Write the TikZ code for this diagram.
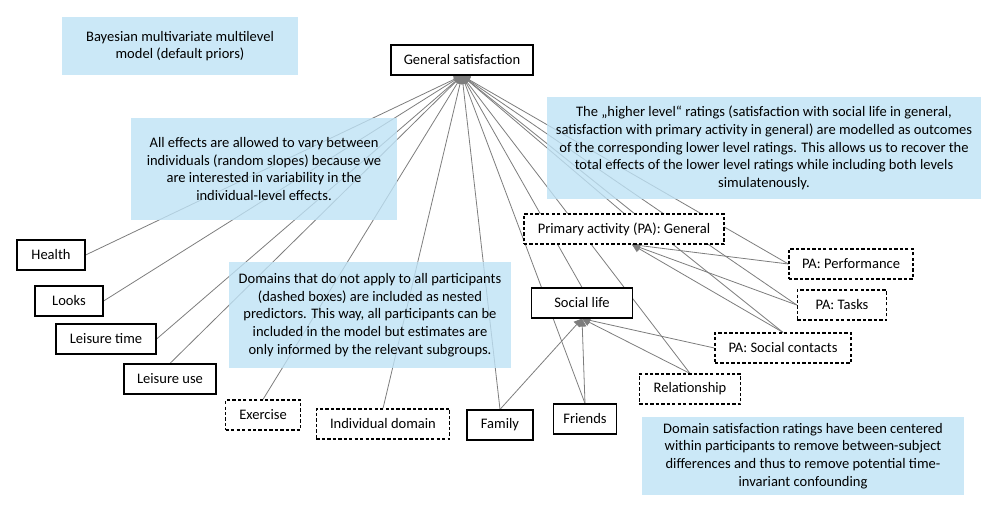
\documentclass[tikz,border=0pt]{standalone}
\usepackage{fontspec}
\setmainfont{Carlito}
\usetikzlibrary{arrows.meta,backgrounds}
\definecolor{notefill}{RGB}{190,226,245}
\definecolor{linkgray}{RGB}{125,125,125}

\begin{document}
\begin{tikzpicture}[
    x=0.75pt, y=-0.75pt,
    font=\fontsize{10.9}{13.3}\selectfont,
    every node/.style = {align=center, inner sep=0pt},
    domain/.style = {draw, fill=white, line width=0.9pt,
      minimum height=22.5pt, minimum width=#1},
    nested/.style = {domain=#1, dash pattern=on 2.5pt off 1.6pt},
    note/.style = {fill=notefill, fill opacity=0.8, text opacity=1},
    link/.style = {draw=linkgray, line width=0.6pt,
      -{Triangle[length=6pt,width=6pt]}}
  ]
  \useasboundingbox (0,0) rectangle (1000,511);

  \node[domain=106.5pt] (gs) at (462,60) {General satisfaction};

  \node[domain=51pt] (health) at (51,255) {Health};
  \node[domain=51pt] (looks) at (69,301) {Looks};
  \node[domain=75pt] (ltime) at (106,339) {Leisure time};
  \node[domain=69pt] (luse) at (170,379) {Leisure use};
  \node[nested=56pt] (exercise) at (263,415) {Exercise};
  \node[nested=100pt] (indiv) at (383,424) {Individual domain};
  \node[domain=49.5pt] (family) at (500,425) {Family};
  \node[domain=47pt] (friends) at (585,419) {Friends};
  \node[domain=76pt] (social) at (582,303) {Social life};
  \node[nested=76pt] (relation) at (690,389) {Relationship};
  \node[nested=150pt] (pagen) at (624,229) {Primary activity (PA): General};
  \node[nested=93pt] (paperf) at (851,264) {PA: Performance};
  \node[nested=67pt] (patasks) at (842,305) {PA: Tasks};
  \node[nested=102pt] (pasocial) at (783,348) {PA: Social contacts};

  \node[note, minimum width=177pt, minimum height=43pt] (model) at (180,46)
    {Bayesian multivariate multilevel\\model (default priors)};
  \node[note, minimum width=200pt, minimum height=76.5pt] (noteslopes) at (264,169)
    {All effects are allowed to vary between\\individuals (random slopes) because we\\are interested in variability in the\\individual-level effects.};
  \node[note, minimum width=212pt, minimum height=80pt] (notenested) at (370,315)
    {Domains that do not apply to all participants\\(dashed boxes) are included as nested\\predictors. This way, all participants can be\\included in the model but estimates are\\only informed by the relevant subgroups.};
  \node[note, minimum width=326pt, minimum height=77pt] (notelevels) at (764,148)
    {The „higher level“ ratings (satisfaction with social life in general,\\satisfaction with primary activity in general) are modelled as outcomes\\of the corresponding lower level ratings. This allows us to recover the\\total effects of the lower level ratings while including both levels\\simulatenously.};
  \node[note, minimum width=242pt, minimum height=59pt] (notecenter) at (803,456)
    {Domain satisfaction ratings have been centered\\within participants to remove between-subject\\differences and thus to remove potential time-\\invariant confounding};

  \begin{pgfonlayer}{background}
    \foreach \src in {health.east, looks.east, ltime.east, luse.north,
        exercise.north, indiv.north, family.north, friends.north,
        social.north, relation.north, pagen.north, paperf.west,
        patasks.west, pasocial.north}
      \draw[link] (\src) -- (gs.south);
    \foreach \src in {family.north, friends.north, relation.north, pasocial.west}
      \draw[link] (\src) -- (social.south);
    \foreach \src in {paperf.west, patasks.west, pasocial.north}
      \draw[link] (\src) -- ([xshift=6pt]pagen.south);
  \end{pgfonlayer}
\end{tikzpicture}
\end{document}
